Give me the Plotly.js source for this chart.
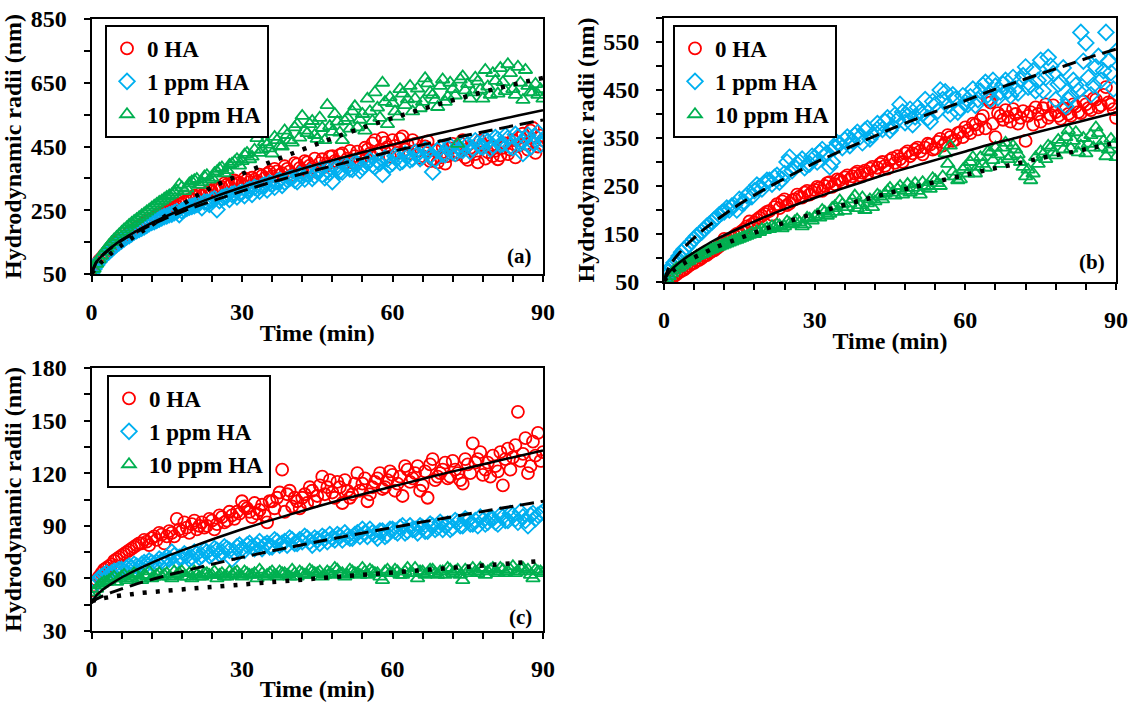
<!DOCTYPE html>
<html><head><meta charset="utf-8">
<script src="https://cdn.plot.ly/plotly-3.0.1.min.js"></script>
<style>html,body{margin:0;padding:0;background:#fff;}#chart{width:1141px;height:702px;}</style>
</head><body><div id="chart"></div>
<script>
// ---------- DATA ----------
// readings on whole minutes
const time = [0,1,2,3,4,5,6,7,8,9,10,11,12,13,14,15,16,17,18,19,20,21,22,23,24,25,26,27,28,29,30,31,32,33,34,35,36,37,38,39,40,41,42,43,44,45,46,47,48,49,50,51,52,53,54,55,56,57,58,59,60,61,62,63,64,65,66,67,68,69,70,71,72,73,74,75,76,77,78,79,80,81,82,83,84,85,86,87,88,89,90];
// readings on half minutes
const timeHalf = [0.5,1.5,2.5,3.5,4.5,5.5,6.5,7.5,8.5,9.5,10.5,11.5,12.5,13.5,14.5,15.5,16.5,17.5,18.5,19.5,20.5,21.5,22.5,23.5,24.5,25.5,26.5,27.5,28.5,29.5,30.5,31.5,32.5,33.5,34.5,35.5,36.5,37.5,38.5,39.5,40.5,41.5,42.5,43.5,44.5,45.5,46.5,47.5,48.5,49.5,50.5,51.5,52.5,53.5,54.5,55.5,56.5,57.5,58.5,59.5,60.5,61.5,62.5,63.5,64.5,65.5,66.5,67.5,68.5,69.5,70.5,71.5,72.5,73.5,74.5,75.5,76.5,77.5,78.5,79.5,80.5,81.5,82.5,83.5,84.5,85.5,86.5,87.5,88.5,89.5];
const seriesNames = ['0 HA', '1 ppm HA', '10 ppm HA'];
const panelLabels = ['(a)', '(b)', '(c)'];
const xTitle = 'Time (min)';
const yTitle = 'Hydrodynamic radii (nm)';

// panel (a)
const a_0HA = [55,80,100,118,135,148,160,172,185,196,206,214,224,232,240,250,256,262,272,280,286,292,296,306,310,316,322,330,336,340,332,346,352,340,358,364,356,372,366,380,360,394,376,400,384,370,410,396,420,402,428,412,400,434,418,440,460,426,476,448,470,430,482,456,470,436,420,466,410,400,448,420,458,432,470,408,440,400,456,432,420,410,446,426,470,452,490,440,508,450,470];
const a_0HA_h = [68,92,110,126,142,156,166,180,190,200,212,220,228,238,246,252,260,270,276,284,296,300,302,312,318,320,334,326,344,336,350,338,346,362,350,370,380,360,388,372,398,382,404,390,412,398,386,418,404,424,398,436,420,408,446,428,470,440,462,418,452,474,440,428,458,414,450,404,438,416,396,444,424,460,416,446,426,468,412,450,436,422,460,440,416,478,458,500,430,484];
const a_1ppm = [52,78,98,114,128,142,154,166,176,186,194,202,212,218,226,232,238,246,248,256,262,268,258,276,282,252,290,296,300,292,306,312,300,318,326,314,332,340,328,346,352,340,358,364,350,370,362,376,340,382,370,388,378,396,384,400,392,404,362,410,398,416,404,420,412,426,418,432,370,438,426,444,432,450,438,456,444,460,448,466,452,472,458,476,446,480,428,486,462,494,472];
const a_1ppm_h = [66,88,106,120,136,148,160,170,182,190,198,208,214,222,230,236,242,236,252,260,264,272,276,268,286,280,292,284,302,304,296,316,322,310,330,336,322,344,338,350,344,362,348,370,358,376,352,368,384,372,392,380,398,374,392,408,386,398,414,392,420,400,426,408,432,412,440,420,410,446,424,452,428,440,462,434,468,450,470,442,478,456,484,450,488,460,476,448,482,456];
const a_10ppm = [50,82,108,130,150,166,182,196,210,222,234,246,258,270,280,292,300,312,322,318,340,348,338,360,352,372,384,376,396,410,404,430,418,476,440,456,428,470,450,486,462,520,546,492,530,474,508,580,496,528,470,540,560,510,552,600,530,572,650,520,586,544,616,598,560,632,590,648,612,574,660,606,630,458,670,646,620,654,600,638,680,616,652,708,630,700,596,640,620,612,600];
const a_10ppm_h = [66,96,120,140,158,174,190,204,216,228,240,252,264,276,286,296,306,330,310,334,344,330,356,346,366,380,366,392,402,390,424,410,440,430,464,444,480,452,500,470,510,478,500,520,486,540,470,514,552,494,530,506,576,534,500,560,620,540,590,604,560,630,580,640,600,570,664,620,596,640,590,650,610,660,626,600,666,628,690,612,656,696,624,680,612,650,690,620,646,630];
// panel (b)
const b_0HA = [50,56,62,70,76,84,90,96,104,110,116,124,140,136,146,152,160,176,174,184,192,198,206,204,222,214,222,228,236,232,242,246,250,258,254,262,268,264,276,272,282,286,280,296,292,304,298,306,318,312,326,322,330,336,328,348,340,352,346,362,372,360,378,388,370,424,352,396,408,384,400,392,344,404,414,384,420,398,404,390,410,396,416,402,420,408,430,418,456,420,392];
const b_0HA_h = [53,59,66,73,80,88,94,100,106,114,120,130,134,142,150,156,166,170,180,188,196,190,212,218,210,220,232,226,240,238,248,240,256,248,264,258,272,270,280,278,276,290,288,300,286,308,312,300,322,318,330,316,338,326,342,334,356,344,360,352,366,380,368,396,430,380,402,388,394,410,380,406,396,378,400,412,392,418,396,412,400,420,404,426,412,432,414,440,424,410];
const b_1ppm = [52,72,90,104,118,128,140,150,160,170,180,190,196,200,210,222,216,236,240,248,256,262,268,258,276,310,290,300,288,296,310,320,314,290,330,338,346,334,356,352,366,348,362,374,384,366,398,420,382,410,394,404,430,384,420,450,446,400,430,412,424,436,418,448,466,430,458,446,470,438,452,470,498,460,448,512,476,500,430,466,416,438,460,570,548,440,498,470,570,486,530];
const b_1ppm_h = [62,82,96,112,122,134,146,154,166,174,184,194,204,208,200,214,230,228,252,244,262,254,272,264,300,282,296,306,294,312,300,326,318,300,340,330,352,344,362,340,370,356,380,368,392,374,388,404,396,378,414,400,392,426,406,430,418,440,404,438,420,452,430,460,440,470,434,462,448,476,444,480,456,490,470,448,518,484,462,496,430,470,448,510,476,460,520,490,510,452];
const b_10ppm = [50,62,74,80,88,94,100,106,110,116,120,124,128,132,136,140,144,148,150,154,158,160,164,168,166,172,176,174,170,182,186,184,196,192,208,220,198,214,230,210,200,222,218,228,234,246,230,250,240,236,256,232,248,244,262,250,318,334,270,264,290,300,276,310,288,320,330,296,340,312,326,300,270,262,310,322,306,330,314,340,352,328,362,334,318,356,372,330,312,348,310];
const b_10ppm_h = [56,68,78,84,92,98,104,108,114,118,122,126,130,134,138,142,146,152,156,160,162,166,170,162,176,170,180,166,184,178,190,200,188,204,196,212,206,222,204,226,214,206,232,222,240,236,244,232,254,246,240,258,250,266,256,270,296,280,262,284,276,310,290,296,322,304,316,330,306,334,316,290,284,276,296,316,334,320,346,326,366,344,320,350,338,330,360,344,326,336];
// panel (c)
const c_0HA = [53,59,63,66,68,71,73,75,77,79,80,81,83,82,85,84,86,94,87,89,91,88,92,90,93,91,95,93,96,98,104,100,95,97,102,92,104,106,122,108,101,104,106,103,110,107,118,112,109,115,103,110,108,120,114,104,112,117,111,116,119,114,107,122,117,124,113,106,128,118,122,117,127,120,114,125,137,128,119,126,130,121,113,134,129,155,131,120,138,143,132];
const c_0HA_h = [56,61,65,67,70,72,74,76,78,80,82,79,84,86,80,87,84,88,92,86,93,90,89,94,88,96,92,98,94,97,101,98,103,99,96,104,100,109,98,110,106,100,108,112,104,113,108,116,106,112,116,106,114,110,117,108,115,120,112,121,110,118,124,115,120,110,121,125,116,120,126,118,122,116,128,120,126,132,122,118,124,132,128,122,136,127,140,124,130,127];
const c_1ppm = [52,58,61,63,63,64,65,66,66,67,68,68,69,69,70,72,75,70,72,73,72,74,73,75,74,76,75,77,71,78,77,79,78,79,77,80,78,81,80,79,82,80,81,83,79,82,84,81,83,85,82,84,83,86,88,84,86,83,87,85,88,86,90,87,88,86,89,87,90,89,88,91,89,92,90,93,91,90,93,92,94,91,95,93,96,92,95,90,97,96,98];
const c_1ppm_h = [56,60,62,62,64,65,64,67,68,66,69,70,68,71,69,71,73,72,74,71,75,72,76,73,77,74,78,76,75,79,76,80,77,81,79,78,82,79,81,83,80,82,84,81,83,80,83,85,82,84,86,83,85,84,86,88,85,87,84,88,87,89,86,90,88,90,87,91,88,92,90,88,93,90,94,91,93,95,91,94,92,96,93,97,94,98,93,96,94,97];
const c_10ppm = [50,54,57,58,60,58,61,59,60,62,59,61,60,62,61,63,60,62,64,61,60,62,61,63,62,60,63,61,62,64,61,63,62,60,63,62,64,61,63,62,65,61,63,62,64,63,61,64,62,65,63,62,64,63,66,62,64,63,59,65,63,64,62,66,63,60,64,63,65,62,64,66,63,65,59,64,66,63,65,64,66,63,65,64,67,64,66,65,60,64,63];
const c_10ppm_h = [52,56,58,59,61,60,62,61,63,60,62,64,61,63,62,61,64,63,61,63,64,61,63,62,64,62,61,64,63,62,64,62,63,65,61,63,62,64,63,61,63,64,62,65,63,64,62,63,66,63,61,65,63,62,64,65,63,61,64,63,65,62,64,63,66,64,62,65,63,64,62,65,64,62,65,63,64,66,62,65,64,66,63,65,63,66,64,62,65,64];

// fitted curves
const fitTime = [0,1,2,4,6,8,10,15,20,25,30,35,40,45,50,55,60,65,70,75,80,85,90];
const a_fit0HA  = [52,88,106,134,157,176,194,232,265,295,322,347,371,394,415,436,456,476,494,512,530,547,564];
const a_fit1ppm = [52,88,106,133,155,173,190,226,257,284,310,334,356,377,397,416,435,452,469,486,502,518,533];
const a_fit10ppm= [52,70,88,116,140,162,183,235,287,330,364,397,428,458,487,514,539,563,586,608,629,648,665];
const b_fit0HA  = [52,70,81,98,112,125,137,162,185,206,225,243,260,277,292,307,322,337,350,364,377,390,403];
const b_fit1ppm = [52,81,97,122,142,160,176,212,243,271,298,322,345,368,389,409,428,448,466,484,501,519,535];
const b_fit10ppm= [52,66,75,89,101,111,121,141,160,177,193,208,222,236,248,261,273,285,296,308,318,329,340];
const c_fit0HA  = [46,50.4,53,57,60.5,63.5,66.3,72.6,78,83.2,88,92.5,96.8,101,105,108.7,112.4,116,119.6,123,126.4,129.7,133];
const c_fit1ppm = [46,48.2,49.6,52,54,55.9,57.7,61.7,65.3,68.7,72,75.1,78,80.9,83.7,86.4,89,91.7,94.2,96.7,99.2,101.6,104];
const c_fit10ppm= [47,47.8,48.5,49.5,50.3,51,51.7,53,54.2,55.3,56.5,57.7,58.8,60,61.2,62.3,63.4,64.5,65.6,66.7,67.8,68.9,70];

// ---------- STYLE ----------
const F = '"Liberation Serif", "Times New Roman", Times, serif';
const colors = ['#FF0000', '#00B0F0', '#00B050'];
const symbols = ['circle-open', 'diamond-open', 'triangle-up-open'];
const dashes = ['solid', '14px,7px', '4px,9px'];
const lineW = [2.5, 3, 4.5];
const allTime = time.concat(timeHalf);

function pts(y, yh, i, xa, ya, leg) {
  return {x: allTime, y: y.concat(yh), name: seriesNames[i], type: 'scatter', mode: 'markers',
    marker: {symbol: symbols[i], size: 12, color: colors[i], line: {color: colors[i], width: 1.8}},
    xaxis: xa, yaxis: ya, legend: leg, hoverinfo: 'x+y+name'};
}
function fit(y, i, xa, ya) {
  return {x: fitTime, y: y, type: 'scatter', mode: 'lines', showlegend: false,
    line: {color: '#000', width: lineW[i], dash: dashes[i], shape: 'spline', smoothing: 0.6},
    xaxis: xa, yaxis: ya, hoverinfo: 'skip'};
}

const data = [
  pts(a_0HA, a_0HA_h, 0, 'x', 'y', 'legend'), pts(a_1ppm, a_1ppm_h, 1, 'x', 'y', 'legend'), pts(a_10ppm, a_10ppm_h, 2, 'x', 'y', 'legend'),
  fit(a_fit0HA, 0, 'x', 'y'), fit(a_fit1ppm, 1, 'x', 'y'), fit(a_fit10ppm, 2, 'x', 'y'),
  pts(b_0HA, b_0HA_h, 0, 'x2', 'y2', 'legend2'), pts(b_1ppm, b_1ppm_h, 1, 'x2', 'y2', 'legend2'), pts(b_10ppm, b_10ppm_h, 2, 'x2', 'y2', 'legend2'),
  fit(b_fit0HA, 0, 'x2', 'y2'), fit(b_fit1ppm, 1, 'x2', 'y2'), fit(b_fit10ppm, 2, 'x2', 'y2'),
  pts(c_0HA, c_0HA_h, 0, 'x3', 'y3', 'legend3'), pts(c_1ppm, c_1ppm_h, 1, 'x3', 'y3', 'legend3'), pts(c_10ppm, c_10ppm_h, 2, 'x3', 'y3', 'legend3'),
  fit(c_fit0HA, 0, 'x3', 'y3'), fit(c_fit1ppm, 1, 'x3', 'y3'), fit(c_fit10ppm, 2, 'x3', 'y3')
];

const W = 1141, H = 702;
const tickFont = {family: F, size: 24, color: '#000', weight: 'bold'};
const titleFont = {family: F, size: 24, color: '#000', weight: 'bold'};
const common = {ticks: 'outside', ticklen: 6, tickwidth: 2, tickcolor: '#000', showline: true, linecolor: '#000',
  linewidth: 2, mirror: true, showgrid: false, zeroline: false, fixedrange: true, automargin: false, tickfont: tickFont};

function xAx(x0, x1, anchor) {
  return Object.assign({}, common, {domain: [x0 / W, x1 / W], anchor: anchor, range: [0, 90], tickmode: 'linear', tick0: 0, dtick: 30,
    minor: {tick0: 0, dtick: 6, ticks: 'outside', ticklen: 6, tickwidth: 2, tickcolor: '#000', showgrid: false},
    ticklabelstandoff: 9, title: {text: xTitle, font: titleFont, standoff: 0}});
}
function yAx(top, bottom, anchor, range, dtick, minorDtick) {
  return Object.assign({}, common, {domain: [1 - bottom / H, 1 - top / H], anchor: anchor, range: range, tickmode: 'linear', tick0: range[0], dtick: dtick,
    minor: {tick0: range[0], dtick: minorDtick, ticks: 'outside', ticklen: 6, tickwidth: 2, tickcolor: '#000', showgrid: false},
    ticklabelstandoff: 12, title: {text: yTitle, font: titleFont, standoff: 2}});
}
function leg(left, top) {
  return {x: left / W, y: 1 - top / H, xanchor: 'left', yanchor: 'top', xref: 'paper', yref: 'paper',
    bgcolor: '#fff', bordercolor: '#000', borderwidth: 2, font: {family: F, size: 23, color: '#000', weight: 'bold'},
    tracegroupgap: 0, itemsizing: 'trace'};
}
function lab(text, xr, yc) {
  return {text: text, xref: 'paper', yref: 'paper', x: xr / W, y: 1 - yc / H, xanchor: 'right', yanchor: 'middle',
    showarrow: false, font: {family: F, size: 21, color: '#000', weight: 'bold'}};
}

const layout = {
  width: W, height: H, margin: {l: 0, r: 0, t: 0, b: 0}, paper_bgcolor: '#fff', plot_bgcolor: '#fff',
  xaxis: xAx(91.5, 543, 'y'), yaxis: yAx(19, 274, 'x', [50, 850], 200, 100),
  xaxis2: xAx(664, 1116, 'y2'), yaxis2: yAx(18, 282, 'x2', [50, 600], 100, 50),
  xaxis3: xAx(91.5, 543, 'y3'), yaxis3: yAx(368, 631, 'x3', [30, 180], 30, 15),
  legend: leg(105, 25), legend2: leg(673, 25), legend3: leg(107, 375),
  annotations: [lab(panelLabels[0], 534, 256), lab(panelLabels[1], 1107, 262), lab(panelLabels[2], 534, 617)],
  showlegend: true
};

Plotly.newPlot('chart', data, layout, {displayModeBar: false, staticPlot: true});
</script>
</body></html>
